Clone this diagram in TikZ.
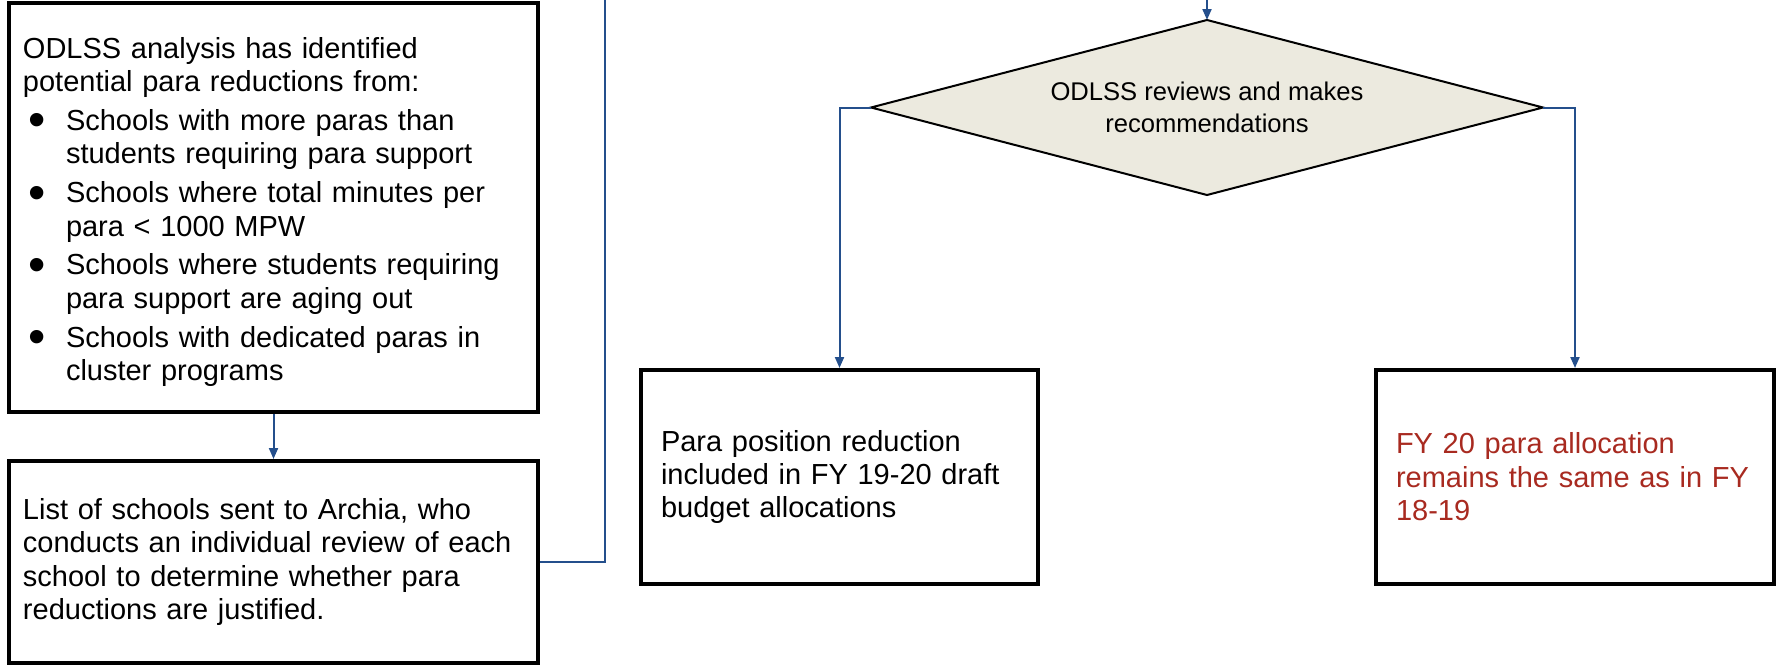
\documentclass[tikz,border=0pt]{standalone}
\usepackage{fontspec}
\setmainfont{Liberation Sans}
\usetikzlibrary{shapes.geometric,arrows.meta}
\definecolor{connblue}{RGB}{36,79,140}
\definecolor{decfill}{RGB}{236,234,223}
\definecolor{redtxt}{RGB}{168,42,32}
\newcommand\bulitem{\makebox[21.5pt][l]{\hspace{2.6pt}\raisebox{-3.2pt}{\scalebox{1.7}{\textbullet}}}}
\newcommand\bulcont{\hspace*{21.5pt}}
\begin{document}
\begin{tikzpicture}[x=0.5pt,y=-0.5pt,
  box/.style={draw=black, line width=2pt, rectangle, align=left,
    font=\fontsize{14.5}{16.7}\selectfont, inner ysep=0pt},
  connline/.style={draw=connblue, line width=1pt},
  arr/.style={connline, -{Triangle[length=5.5pt,width=4.5pt]}},
  decision/.style={diamond, draw=black, line width=1pt, fill=decfill, aspect=3.84,
    minimum width=336pt, minimum height=87.5pt, inner sep=0pt, outer sep=0pt,
    align=center, font=\fontsize{12.8}{15.9}\selectfont}]
\useasboundingbox (0,0) rectangle (1777,664);

\node[box, text width=250.5pt, inner xsep=7pt, minimum height=204.5pt] (b1) at (273.5,207.5) {\rule{0pt}{15pt}ODLSS analysis has identified\\
potential para reductions from:\\[2.7pt]
\bulitem Schools with more paras than\\
\bulcont students requiring para support\\[2.7pt]
\bulitem Schools where total minutes per\\
\bulcont para < 1000 MPW\\[2.7pt]
\bulitem Schools where students requiring\\
\bulcont para support are aging out\\[2.7pt]
\bulitem Schools with dedicated paras in\\
\bulcont cluster programs};

\node[box, text width=250.5pt, inner xsep=7pt, minimum height=101pt] (b2) at (273.5,562) {List of schools sent to Archia, who\\
conducts an individual review of each\\
school to determine whether para\\
reductions are justified.};

\node[box, text width=178.5pt, inner xsep=10pt, minimum height=107pt] (b3) at (839.5,477) {Para position reduction\\
included in FY 19-20 draft\\
budget allocations};

\node[box, text width=179pt, inner xsep=10pt, minimum height=107pt, text=redtxt] (b4) at (1575,477) {FY 20 para allocation\\
remains the same as in FY\\
18-19};

\node[decision] (d) at (1207,107.5) {ODLSS reviews and makes\\recommendations};

\coordinate (tl) at (605,0);
\coordinate (tr) at (1207,0);

\draw[arr] (b1.south) -- (b2.north);
\draw[connline] (b2.east) -| (tl);
\draw[arr] (tr) -- (d.north);
\draw[arr] (d.west) -| (b3.north);
\draw[arr] (d.east) -| (b4.north);
\end{tikzpicture}
\end{document}
